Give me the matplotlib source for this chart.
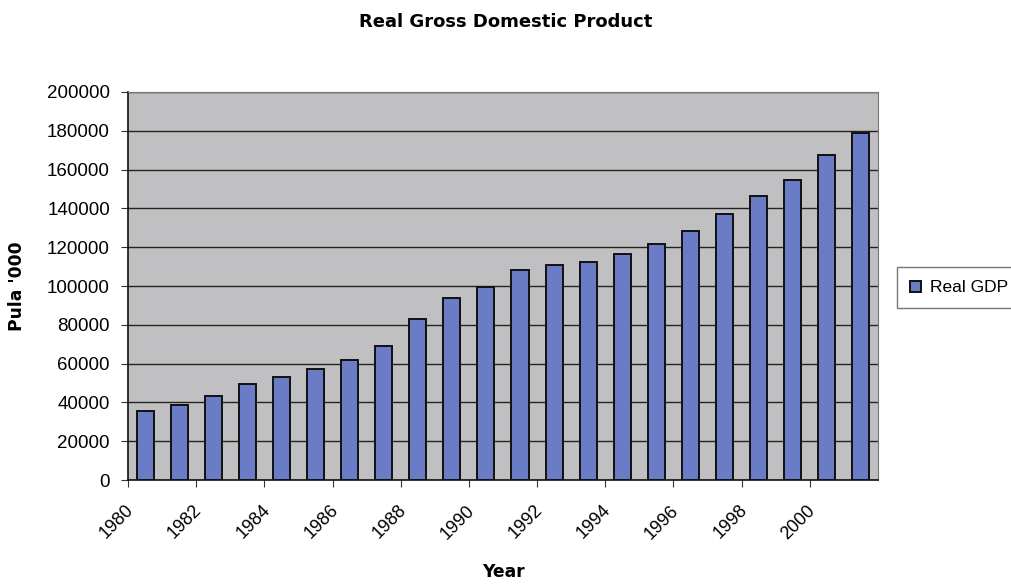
import matplotlib
matplotlib.use("Agg")
import matplotlib.pyplot as plt
import matplotlib.transforms as mtransforms
import numpy as np

plt.rcParams['font.family'] = ['Liberation Sans', 'DejaVu Sans']

years = list(range(1980, 2002))
gdp = [35500, 38500, 43500, 49500, 53000, 57000, 62000, 69000, 83000, 94000,
       99500, 108000, 111000, 112500, 116500, 121500, 128500, 137000, 146500,
       154500, 167500, 179000]
tick_years = list(range(1980, 2001, 2))
yticks = list(range(0, 200001, 20000))

fig = plt.figure(figsize=(10.12, 5.84), dpi=100)
ax = fig.add_axes([0.1265, 0.178, 0.741, 0.6645])
ax.set_facecolor('#c0c0c2')

x = np.arange(len(years)) + 0.5
ax.bar(x, gdp, width=0.5, color='#6b7cc6', edgecolor='#111111', linewidth=1.4,
       label='Real GDP', zorder=3)

ax.set_xlim(0, len(years))
ax.set_ylim(0, 200000)
ax.set_yticks(yticks)
ax.set_yticklabels([str(v) for v in yticks], fontsize=13.5)
ax.yaxis.grid(True, color='#222222', linewidth=1.0, zorder=1)
ax.set_axisbelow(True)

tick_pos = [years.index(y) for y in tick_years]
ax.set_xticks(tick_pos)
ax.set_xticklabels([str(y) for y in tick_years], rotation=45, ha='right',
                   va='center', rotation_mode='anchor', fontsize=13)
ax.tick_params(axis='y', length=5, pad=8, color='#333333')
ax.tick_params(axis='x', length=5, pad=15, color='#333333')
offset = mtransforms.ScaledTranslation(3 / 100, 0, fig.dpi_scale_trans)
for lbl in ax.get_xticklabels():
    lbl.set_transform(lbl.get_transform() + offset)

for s in ['top', 'right']:
    ax.spines[s].set_color('#777777')
for s in ['left', 'bottom']:
    ax.spines[s].set_color('#111111')
    ax.spines[s].set_linewidth(1.2)

ax.set_ylabel("Pula '000", fontsize=12.3, fontweight='bold', family='DejaVu Sans')
ax.yaxis.set_label_coords(-0.136, 0.5)
ax.set_xlabel("Year", fontsize=12.3, fontweight='bold', family='DejaVu Sans',
              va='center')
ax.xaxis.set_label_coords(0.5, -0.237)
fig.text(0.5, 0.962, "Real Gross Domestic Product", ha='center', va='center',
         fontsize=13, fontweight='bold', family='DejaVu Sans')

leg = ax.legend(loc='center left', bbox_to_anchor=(1.025, 0.495), fontsize=12.5,
                frameon=True, fancybox=False, edgecolor='#555555',
                handlelength=0.65, handleheight=0.65, handletextpad=0.5,
                borderpad=0.75, borderaxespad=0)

fig.savefig('out.png', dpi=100, facecolor='white')
